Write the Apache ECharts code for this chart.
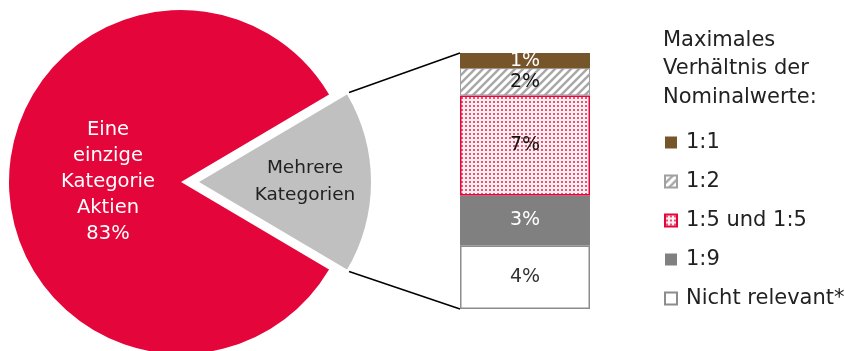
<!DOCTYPE html>
<html>
<head>
<meta charset="utf-8">
<script src="https://cdn.jsdelivr.net/npm/echarts@6/dist/echarts.min.js"></script>
<style>
  html, body { margin: 0; padding: 0; background: #fff; }
  #main { width: 845px; height: 351px; }
</style>
</head>
<body>
<div id="main"></div>
<script>
// pie: share of funds by number of categories
const pieNames = ['Mehrere\nKategorien', 'Eine\neinzige\nKategorie\nAktien\n83%'];
const pieValues = [17, 83];

// stacked bar, bottom to top
const barNames = ['Nicht relevant*', '1:9', '1:5 und 1:5', '1:2', '1:1'];
const barValues = [4.2, 3.3, 6.6, 1.8, 1.0];
const legendNames = ['1:1', '1:2', '1:5 und 1:5', '1:9', 'Nicht relevant*'];

const FONT = 'DejaVu Sans';
const RED = '#E4063A';
const TXT = '#222';

const pieCenter = [181, 182];
const pieRadius = 172;
const pieOffset = 18;
const gridLeft = 460, gridRight = 255, gridTop = 53, gridBottom = 42;

function hatchPattern() {
  const c = document.createElement('canvas');
  c.width = 8; c.height = 8;
  const g = c.getContext('2d');
  g.fillStyle = '#fff';
  g.fillRect(0, 0, 8, 8);
  g.strokeStyle = '#a8a8a8';
  g.lineWidth = 2.4;
  g.beginPath();
  g.moveTo(-2, 10); g.lineTo(10, -2);
  g.moveTo(-2, 2); g.lineTo(2, -2);
  g.moveTo(6, 10); g.lineTo(10, 6);
  g.stroke();
  return c;
}

function dotPattern() {
  const c = document.createElement('canvas');
  c.width = 4; c.height = 4;
  const g = c.getContext('2d');
  g.fillStyle = '#fdf0f3';
  g.fillRect(0, 0, 4, 4);
  g.fillStyle = '#ee4f74';
  g.fillRect(1, 1, 2, 2);
  return c;
}

const barStyles = [
  { color: '#fff', borderColor: '#8c8c8c', borderWidth: 1.5, label: '#333' },
  { color: '#808080', borderColor: '#808080', borderWidth: 0, label: '#fff' },
  { color: { image: dotPattern(), repeat: 'repeat' }, borderColor: RED, borderWidth: 1.5, label: '#111' },
  { color: { image: hatchPattern(), repeat: 'repeat' }, borderColor: '#a0a0a0', borderWidth: 1, label: '#111' },
  { color: '#77552B', borderColor: '#77552B', borderWidth: 0, label: '#fff' }
];

const pieColors = ['#C0C0C0', RED];
const pieLabelColors = ['#222', '#fff'];

const total = barValues.reduce((a, b) => a + b, 0);

const chart = echarts.init(document.getElementById('main'));

chart.setOption({
  animation: false,
  title: {
    text: 'Maximales\nVerhältnis der\nNominalwerte:',
    left: 663,
    top: 26,
    padding: 0,
    textStyle: { fontFamily: FONT, fontSize: 21, fontWeight: 'normal', lineHeight: 28.5, color: TXT }
  },
  legend: {
    orient: 'vertical',
    left: 664,
    top: 131,
    padding: 0,
    itemWidth: 12,
    itemHeight: 12,
    itemGap: 16,
    icon: 'rect',
    data: legendNames,
    selectedMode: false,
    textStyle: { fontFamily: FONT, fontSize: 21, lineHeight: 23, color: TXT, padding: [0, 0, 0, 4] }
  },
  grid: { left: gridLeft, right: gridRight, top: gridTop, bottom: gridBottom },
  xAxis: { type: 'category', data: [''], show: false },
  yAxis: { type: 'value', min: 0, max: total, show: false },
  series: [
    {
      type: 'pie',
      center: pieCenter,
      radius: pieRadius,
      startAngle: 360 * pieValues[0] / 100 / 2,
      clockwise: true,
      selectedMode: 'single',
      selectedOffset: pieOffset,
      silent: true,
      label: {
        show: true,
        position: 'inner',
        fontFamily: FONT,
        fontSize: 19,
        lineHeight: 26
      },
      labelLine: { show: false },
      labelLayout: function (p) {
        return { dx: p.dataIndex === 0 ? 17 : 8 };
      },
      data: pieValues.map((v, i) => ({
        value: v,
        name: pieNames[i],
        selected: i === 0,
        itemStyle: { color: pieColors[i] },
        select: { itemStyle: { color: pieColors[i] } },
        label: { color: pieLabelColors[i], lineHeight: i === 0 ? 27 : 26, fontSize: i === 0 ? 18.5 : 19.5 }
      }))
    },
    ...barNames.map((name, i) => ({
      type: 'bar',
      name: name,
      stack: 'ratio',
      barWidth: '100%',
      silent: true,
      data: [barValues[i]],
      itemStyle: {
        color: barStyles[i].color,
        borderColor: barStyles[i].borderColor,
        borderWidth: barStyles[i].borderWidth
      },
      label: {
        show: true,
        position: 'inside',
        fontFamily: FONT,
        fontSize: 19,
        color: barStyles[i].label,
        formatter: p => Math.round(p.value) + '%'
      }
    }))
  ]
});

// connector lines from the exploded slice to the bar
const half = Math.PI * pieValues[0] / 100;
const cx = pieCenter[0] + pieOffset;
const px = cx + pieRadius * Math.cos(half);
const pyTop = pieCenter[1] - pieRadius * Math.sin(half);
const pyBot = pieCenter[1] + pieRadius * Math.sin(half);
const yTop = chart.convertToPixel({ yAxisIndex: 0 }, total);
const yBot = chart.convertToPixel({ yAxisIndex: 0 }, 0);

chart.setOption({
  graphic: [
    { type: 'line', shape: { x1: px + 2, y1: pyTop - 2, x2: gridLeft, y2: yTop }, style: { stroke: '#000', lineWidth: 1.5 } },
    { type: 'line', shape: { x1: px + 2, y1: pyBot + 2, x2: gridLeft, y2: yBot }, style: { stroke: '#000', lineWidth: 1.5 } }
  ]
});
</script>
</body>
</html>
